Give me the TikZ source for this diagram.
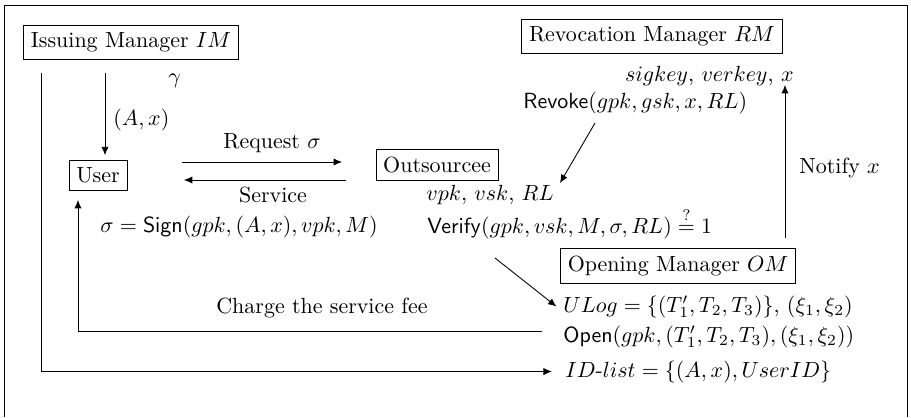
\documentclass[tikz,border=0pt]{standalone}
\usepackage{amsmath,amssymb}
\usepackage{tikz}
\usetikzlibrary{arrows.meta}

\begin{document}
\begin{tikzpicture}[x=0.016cm,y=-0.016cm,>={Latex[length=3.8pt,width=3.3pt]},
  party/.style={draw,inner sep=3.3pt},
  txt/.style={inner sep=0pt}]
\useasboundingbox (0,0) rectangle (911,417);
\draw (4,417) -- (4,5) -- (907,5) -- (907,417);
% parties
\node[party] (im) at (131,42) {Issuing Manager $IM$};
\node[party] (user) at (98,175) {User};
\node[party] (out) at (437,165) {Outsourcee};
\node[party] (rm) at (652,36) {Revocation Manager $RM$};
\node[party] (om) at (678,266) {Opening Manager $OM$};
% texts
\node[txt,anchor=base west] (gam) at (168,83) {$\gamma$};
\node[txt,anchor=base west] (ax) at (113,125) {$(A,x)$};
\node[txt,anchor=base] (req) at (272,148) {Request $\sigma$};
\node[txt,anchor=base] (serv) at (273,202) {Service};
\node[txt,anchor=base west] (vpk) at (426,200) {$vpk$, $vsk$, $RL$};
\node[txt,anchor=base west] (sign) at (100,232) {$\sigma=\mathsf{Sign}(gpk,(A,x),vpk,M)$};
\node[txt,anchor=base west] (vfy) at (427,233) {$\mathsf{Verify}(gpk,vsk,M,\sigma,RL)\stackrel{?}{=}1$};
\node[txt,anchor=base east] (keys) at (794,81) {$sigkey$, $verkey$, $x$};
\node[txt,anchor=base west] (rvk) at (523,108) {$\mathsf{Revoke}(gpk,gsk,x,RL)$};
\node[txt,anchor=base west] (ntf) at (799,173) {Notify $x$};
\node[txt,anchor=base] (fee) at (322,313) {Charge the service fee};
\node[txt,anchor=base west] (ulog) at (563,312) {$ULog=\{(T_1',T_2,T_3)\}$, $(\xi_1,\xi_2)$};
\node[txt,anchor=base west] (open) at (563,342) {$\mathsf{Open}(gpk,(T_1',T_2,T_3),(\xi_1,\xi_2))$};
\node[txt,anchor=base west] (idl) at (565,377) {$ID\text{-}list=\{(A,x),UserID\}$};
% connector ends
\coordinate (imA) at (105,73);
\coordinate (imB) at (41,73);
\coordinate (reqA) at (182,162);
\coordinate (reqB) at (342,162);
\coordinate (srvA) at (346,180);
\coordinate (srvB) at (184,180);
\coordinate (rvkA) at (595,123);
\coordinate (rvkB) at (560,183);
\coordinate (ntfA) at (785,238);
\coordinate (ntfB) at (785,85);
\coordinate (vfyA) at (495,258);
\coordinate (feeA) at (542,331);
\coordinate (feeB) at (78,200);
% connectors
\draw[->,shorten >=2pt] (imA) -- (imA |- user.north);
\draw[->] (imB) |- ([xshift=-6pt]idl.west);
\draw[->] (reqA) -- (reqB);
\draw[->] (srvA) -- (srvB);
\draw[->] (rvkA) -- (rvkB);
\draw[->] (ntfA) -- (ntfB);
\draw[->] (vfyA) -- ([xshift=-3pt]ulog.west);
\draw[->] (feeA) -| (feeB);
\end{tikzpicture}
\end{document}
